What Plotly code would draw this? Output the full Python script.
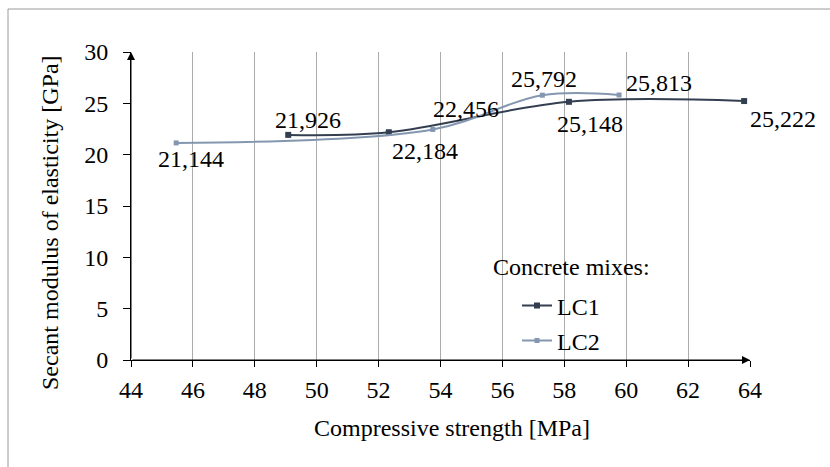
import plotly.graph_objects as go

# ---- data ----
lc1_x = [49.08, 52.33, 58.15, 63.81]
lc1_y = [21.926, 22.184, 25.148, 25.222]
lc1_labels = ["21,926", "22,184", "25,148", "25,222"]

lc2_x = [45.46, 53.75, 57.29, 59.77]
lc2_y = [21.144, 22.456, 25.792, 25.813]
lc2_labels = ["21,144", "22,456", "25,792", "25,813"]

x_ticks = list(range(44, 65, 2))
y_ticks = list(range(0, 31, 5))

# label offsets in pixels (style only)
lc1_shift = [(20, 15), (36, -19), (21, -22), (39, -18)]
lc2_shift = [(15, -16), (33, 20), (2, 16), (40, 12)]

FONT = "Liberation Serif"
C1 = "#333F50"
C2 = "#8497B0"

fig = go.Figure()
fig.add_trace(go.Scatter(
    x=lc1_x, y=lc1_y, name="LC1", mode="lines+markers",
    line=dict(color=C1, width=2, shape="spline", smoothing=1.0),
    marker=dict(symbol="square", size=6, color=C1),
    legend="legend",
))
fig.add_trace(go.Scatter(
    x=lc2_x, y=lc2_y, name="LC2", mode="lines+markers",
    line=dict(color=C2, width=2, shape="spline", smoothing=1.0),
    marker=dict(symbol="square", size=5, color=C2),
    legend="legend2",
))

ann = []
for xs, ys, labs, sh in ((lc1_x, lc1_y, lc1_labels, lc1_shift),
                         (lc2_x, lc2_y, lc2_labels, lc2_shift)):
    for x, y, t, (dx, dy) in zip(xs, ys, labs, sh):
        ann.append(dict(x=x, y=y, xref="x", yref="y", text=t, showarrow=False,
                        xshift=dx, yshift=dy, xanchor="center", yanchor="middle",
                        font=dict(family=FONT, size=24, color="black")))

# axis arrows
ann.append(dict(x=44, y=30, ax=44, ay=0, xref="x", yref="y", axref="x", ayref="y",
                text="", showarrow=True, arrowhead=2, arrowsize=1.6, arrowwidth=1,
                arrowcolor="black", standoff=0))
ann.append(dict(x=64, y=0, ax=44, ay=0, xref="x", yref="y", axref="x", ayref="y",
                text="", showarrow=True, arrowhead=2, arrowsize=1.6, arrowwidth=1,
                arrowcolor="black", standoff=0))

# titles
W, H = 619, 308
def px(xp):
    return (xp - 131) / W
def py(yp):
    return (360 - yp) / H

ann.append(dict(x=px(452), y=py(428), xref="paper", yref="paper",
                text="Compressive strength [MPa]", showarrow=False,
                xanchor="center", yanchor="middle",
                font=dict(family=FONT, size=24, color="black")))
ann.append(dict(x=px(50), y=py(223), xref="paper", yref="paper",
                text="Secant modulus of elasticity [GPa]", showarrow=False,
                textangle=-90, xanchor="center", yanchor="middle",
                font=dict(family=FONT, size=24, color="black")))
ann.append(dict(x=px(491), y=py(267), xref="paper", yref="paper",
                text="Concrete mixes:", showarrow=False,
                xanchor="left", yanchor="middle",
                font=dict(family=FONT, size=24, color="black")))

shapes = [dict(type="rect", xref="paper", yref="paper",
               x0=px(8), x1=px(840), y0=py(475), y1=py(9),
               line=dict(color="#9A9A9A", width=1), fillcolor="rgba(0,0,0,0)",
               layer="below")]

leg_common = dict(font=dict(family=FONT, size=24, color="black"),
                  bgcolor="rgba(0,0,0,0)", borderwidth=0,
                  xanchor="left", yanchor="middle", itemwidth=30,
                  tracegroupgap=0)

fig.update_layout(
    width=830, height=467,
    margin=dict(l=131, r=80, t=52, b=107),
    paper_bgcolor="white", plot_bgcolor="white",
    font=dict(family=FONT),
    showlegend=True,
    legend=dict(x=px(517), y=py(306), **leg_common),
    legend2=dict(x=px(517), y=py(341), **leg_common),
    xaxis=dict(range=[44, 64], tickvals=x_ticks, showgrid=True,
               gridcolor="#ABABAB", gridwidth=1, zeroline=False,
               showline=True, linecolor="black", linewidth=1,
               ticks="outside", ticklen=6, tickcolor="black",
               tickfont=dict(family=FONT, size=24, color="black"),
               ticklabelstandoff=2),
    yaxis=dict(range=[0, 30], tickvals=y_ticks, showgrid=False,
               zeroline=False, showline=True, linecolor="black", linewidth=1,
               ticks="outside", ticklen=7, tickcolor="black",
               tickfont=dict(family=FONT, size=24, color="black"),
               ticklabelstandoff=10),
    annotations=ann,
    shapes=shapes,
)

fig.write_html("out.html")
